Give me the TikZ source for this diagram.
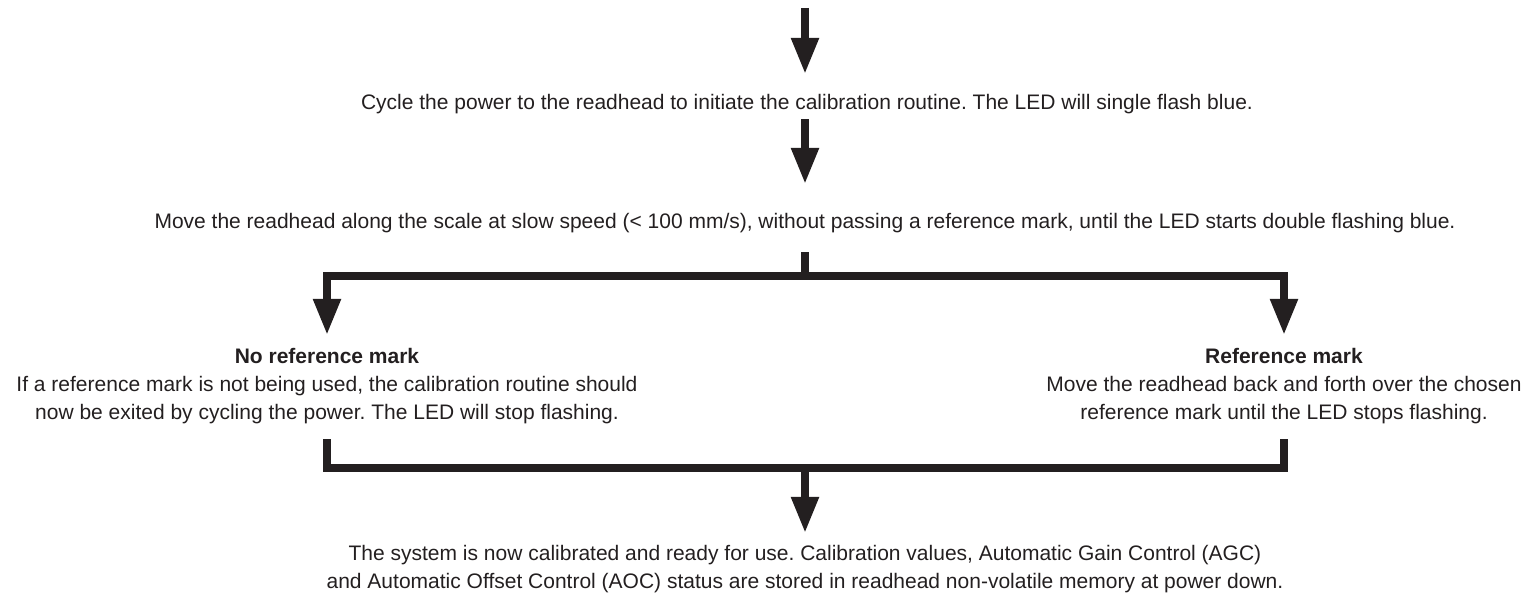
\documentclass[tikz,border=0pt]{standalone}
\usepackage{fontspec}
\setmainfont{Liberation Sans}
\frenchspacing
\usetikzlibrary{arrows.meta,calc}
\definecolor{ink}{RGB}{35,31,32}
\tikzset{
  >={Triangle[length=18pt,width=13pt]},
  flow/.style={->,line width=4pt,draw=#1},
  flow/.default=ink,
  rail/.style={line width=4pt,draw=ink},
  msg/.style={font=\fontsize{10.5}{14}\selectfont,text=ink,align=center,
    inner sep=0pt,anchor=north},
}
\begin{document}
\begin{tikzpicture}[x=0.5pt,y=-0.5pt]
  \useasboundingbox (0,0) rectangle (1530,597);
  % messages
  \node[msg] (cycle) at (807,94) {Cycle the power to the readhead to initiate the calibration routine. The LED will single flash blue.};
  \node[msg] (move) at (805,213) {Move the readhead along the scale at slow speed (< 100 mm/s), without passing a reference mark, until the LED starts double flashing blue.};
  \node[msg] (noref) at (327,348) {\textbf{No reference mark}\\If a reference mark is not being used, the calibration routine should\\now be exited by cycling the power. The LED will stop flashing.};
  \node[msg] (ref) at (1284,348) {\textbf{Reference mark}\\Move the readhead back and forth over the chosen\\reference mark until the LED stops flashing.};
  \node[msg] (done) at (805,545) {The system is now calibrated and ready for use. Calibration values, Automatic Gain Control (AGC)\\and Automatic Offset Control (AOC) status are stored in readhead non-volatile memory at power down.};
  % junctions
  \coordinate (top) at (805,8);
  \coordinate (split) at (805,276);
  \coordinate (join) at (805,468);
  % connectors
  \draw[flow] (top) -- (top |- {$(cycle.north)+(0,-20)$});
  \draw[flow] ($(cycle.south)+(-2,5)$) -- ($(move.north)+(0,-29)$);
  \draw[rail] ($(move.south)+(0,19)$) -- (split);
  \draw[flow] (split) -| ($(noref.north)+(0,-13)$);
  \draw[flow] (split) -| ($(ref.north)+(0,-13)$);
  \draw[rail] ($(noref.south)+(0,15)$) |- (join) -| ($(ref.south)+(0,15)$);
  \draw[flow] (join) -- ($(done.north)+(0,-12)$);
\end{tikzpicture}
\end{document}
